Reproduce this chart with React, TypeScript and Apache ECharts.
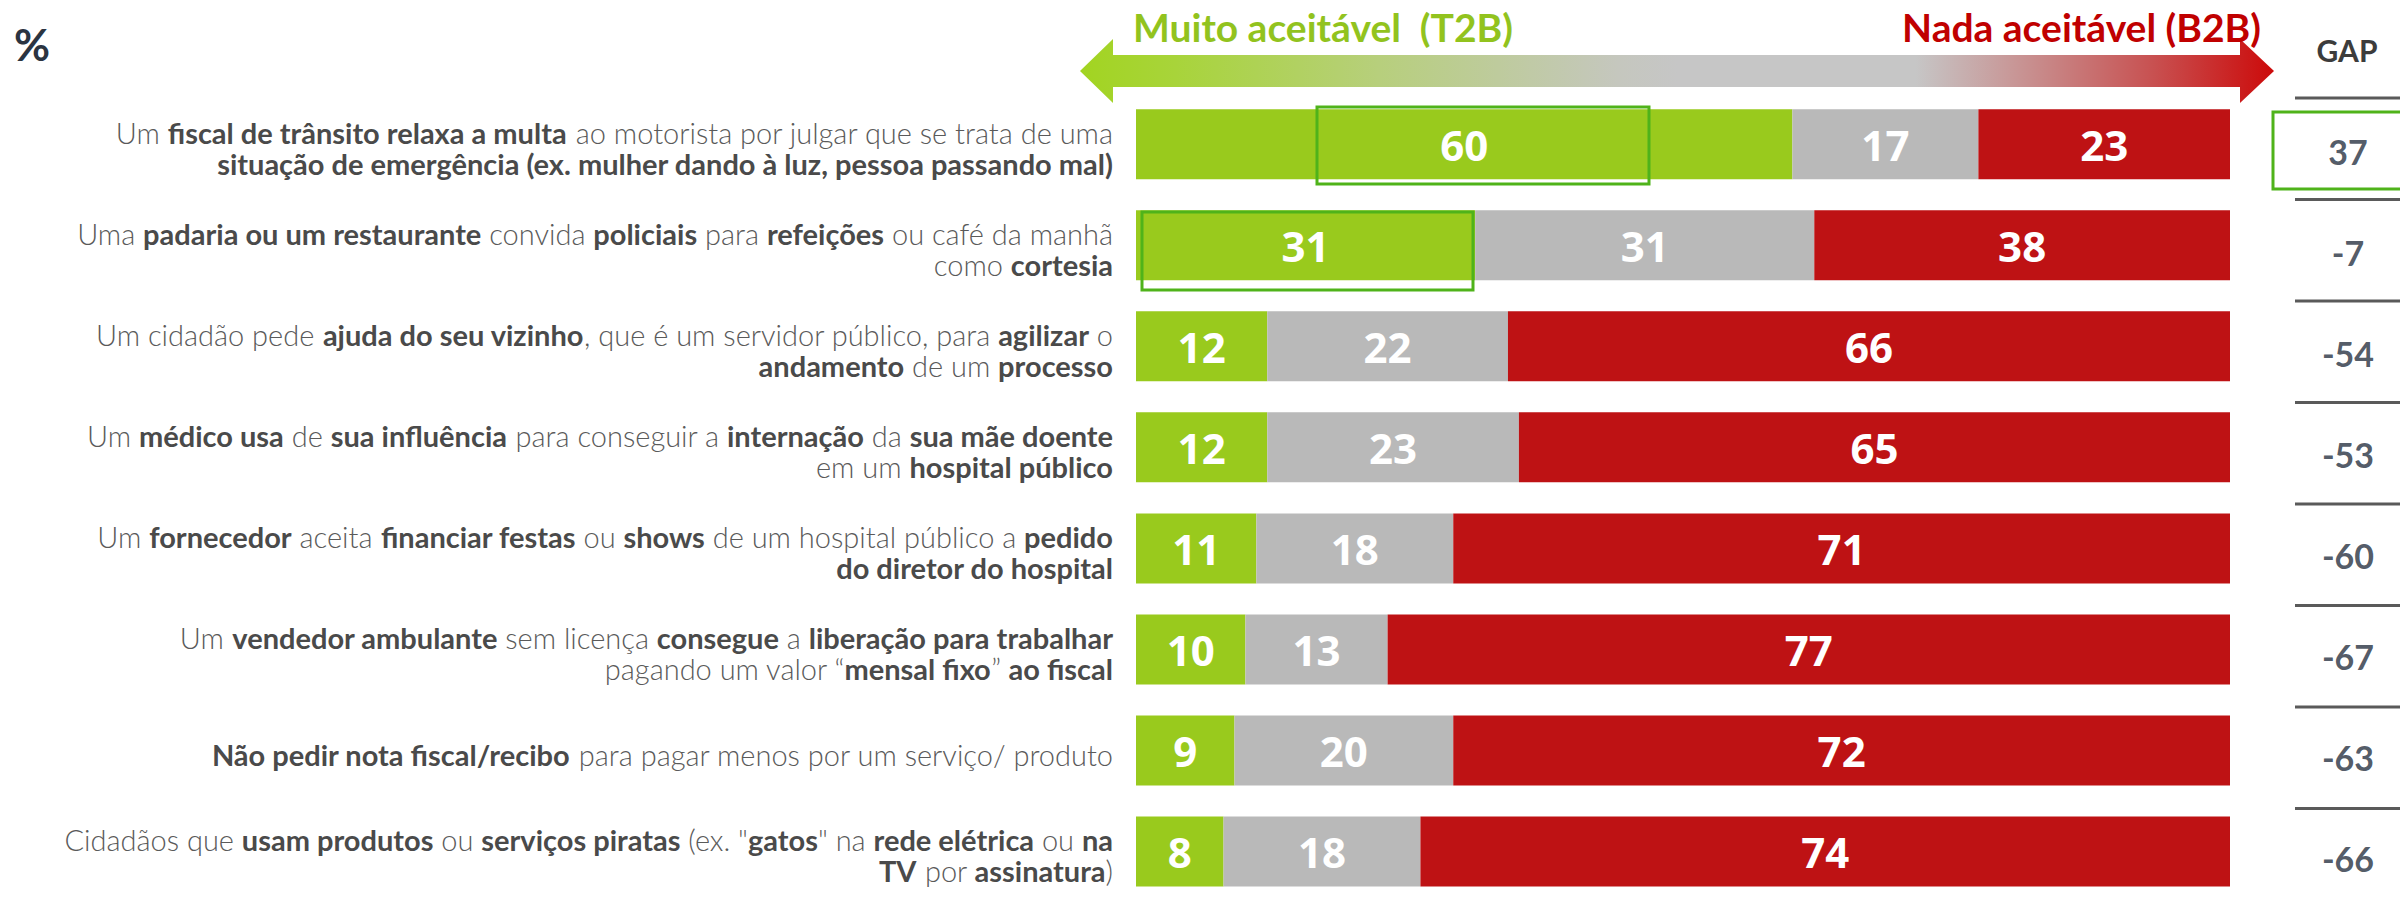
import React, { useEffect, useRef } from "react";
import * as echarts from "echarts";

const categories = [
  "Um {b|fiscal de trânsito relaxa a multa} ao motorista por julgar que se trata de uma\n{b|situação de emergência (ex. mulher dando à luz, pessoa passando mal)}",
  "Uma {b|padaria ou um restaurante} convida {b|policiais} para {b|refeições} ou café da manhã\ncomo {b|cortesia}",
  "Um cidadão pede {b|ajuda do seu vizinho}, que é um servidor público, para {b|agilizar} o\n{b|andamento} de um {b|processo}",
  "Um {b|médico usa} de {b|sua influência} para conseguir a {b|internação} da {b|sua mãe doente}\nem um {b|hospital público}",
  "Um {b|fornecedor} aceita {b|financiar festas} ou {b|shows} de um hospital público a {b|pedido}\n{b|do diretor do hospital}",
  "Um {b|vendedor ambulante} sem licença {b|consegue} a {b|liberação para trabalhar}\npagando um valor “{b|mensal fixo}” {b|ao fiscal}",
  "{b|Não pedir nota fiscal/recibo} para pagar menos por um serviço/ produto",
  "Cidadãos que {b|usam produtos} ou {b|serviços piratas} (ex. \"{b|gatos}\" na {b|rede elétrica} ou {b|na}\n{b|TV} por {b|assinatura})",
];

const t2b = [60, 31, 12, 12, 11, 10, 9, 8];
const neutral = [17, 31, 22, 23, 18, 13, 20, 18];
const b2b = [23, 38, 66, 65, 71, 77, 72, 74];
const gap = [37, -7, -54, -53, -60, -67, -63, -66];

const seriesNames = ["Muito aceitável (T2B)", "Neutro", "Nada aceitável (B2B)"];
const headerLeft = "Muito aceitável  (T2B)";
const headerRight = "Nada aceitável (B2B)";

const GREEN = "#99CA1D";
const GRAY = "#B9B9B9";
const RED = "#BE1214";

export default function App() {
  const ref = useRef<HTMLDivElement>(null);

  useEffect(() => {
    if (!ref.current) return;
    const chart = echarts.init(ref.current, null, { renderer: "svg" });

    const gridTop = 93.75;
    const gridHeight = 828;

    const barLabel = {
      show: true,
      position: "inside",
      color: "#ffffff",
      fontFamily: "Open Sans",
      fontWeight: 700,
      fontSize: 42,
    };

    const sepLines = [];
    for (let k = 0; k < 8; k++) {
      const y = 98 + 101.5 * k;
      sepLines.push({
        type: "line",
        shape: { x1: 2295, y1: y, x2: 2400, y2: y },
        style: { stroke: "#5A5A5A", lineWidth: 3 },
        z: 5,
      });
    }

    const option = {
      animation: false,
      backgroundColor: "#ffffff",
      grid: [
        { left: 1136, width: 1094, top: gridTop, height: gridHeight },
        { left: 2296, width: 104, top: gridTop, height: gridHeight },
      ],
      xAxis: [
        { type: "value", min: 0, max: 100, show: false, gridIndex: 0 },
        { type: "value", min: 0, max: 1, show: false, gridIndex: 1 },
      ],
      yAxis: [
        {
          type: "category",
          data: categories,
          inverse: true,
          gridIndex: 0,
          axisLine: { show: false },
          axisTick: { show: false },
          splitLine: { show: false },
          axisLabel: {
            margin: 23,
            align: "right",
            fontFamily: "Lato",
            fontWeight: 300,
            fontSize: 29,
            lineHeight: 31,
            color: "#5A5A5A",
            padding: [8, 0, 0, 0],
            rich: {
              b: {
                fontFamily: "Lato",
                fontWeight: 700,
                fontSize: 29,
                lineHeight: 31,
                color: "#4A4A4A",
              },
            },
          },
        },
        {
          type: "category",
          data: categories.map((_, i) => String(i)),
          inverse: true,
          gridIndex: 1,
          show: false,
        },
      ],
      series: [
        {
          name: seriesNames[0],
          type: "bar",
          stack: "all",
          data: t2b,
          barWidth: 70,
          itemStyle: { color: GREEN },
          label: barLabel,
        },
        {
          name: seriesNames[1],
          type: "bar",
          stack: "all",
          data: neutral,
          barWidth: 70,
          itemStyle: { color: GRAY },
          label: barLabel,
        },
        {
          name: seriesNames[2],
          type: "bar",
          stack: "all",
          data: b2b,
          barWidth: 70,
          itemStyle: { color: RED },
          label: barLabel,
        },
        {
          name: "GAP",
          type: "scatter",
          xAxisIndex: 1,
          yAxisIndex: 1,
          symbolSize: 1,
          itemStyle: { color: "rgba(0,0,0,0)" },
          data: gap.map((g, i) => ({ value: [0.5, i], gap: g })),
          label: {
            show: true,
            position: "inside",
            offset: [0, 7],
            formatter: (p: any) => String(gap[p.dataIndex]),
            fontFamily: "Lato",
            fontWeight: 700,
            fontSize: 34,
            color: "#263040",
          },
        },
      ],
      graphic: [
        {
          type: "text",
          left: 14,
          top: 22,
          style: {
            text: "%",
            fontFamily: "Lato",
            fontWeight: 700,
            fontSize: 44,
            fill: "#2B3441",
          },
        },
        {
          type: "polygon",
          shape: {
            points: [
              [1080, 71],
              [1113, 39],
              [1113, 55],
              [2240, 55],
              [2240, 39],
              [2274, 71],
              [2240, 103],
              [2240, 87],
              [1113, 87],
              [1113, 103],
            ],
          },
          style: {
            fill: new echarts.graphic.LinearGradient(0, 0, 1, 0, [
              { offset: 0, color: "#A2D421" },
              { offset: 0.08, color: "#A8D43A" },
              { offset: 0.25, color: "#B7CF7C" },
              { offset: 0.45, color: "#C5C7BE" },
              { offset: 0.5, color: "#C6C6C6" },
              { offset: 0.7, color: "#C6C6C6" },
              { offset: 0.78, color: "#C89898" },
              { offset: 0.9, color: "#C85050" },
              { offset: 1, color: "#CC0A0A" },
            ]),
          },
        },
        {
          type: "text",
          x: 1133,
          y: 27,
          style: {
            text: headerLeft,
            fontFamily: "Lato",
            fontWeight: 700,
            fontSize: 39,
            fill: "#92C31E",
            textAlign: "left",
            textVerticalAlign: "middle",
          },
        },
        {
          type: "text",
          x: 2261,
          y: 27,
          style: {
            text: headerRight,
            fontFamily: "Lato",
            fontWeight: 700,
            fontSize: 39,
            fill: "#C00000",
            textAlign: "right",
            textVerticalAlign: "middle",
          },
        },
        {
          type: "text",
          x: 2347,
          y: 50,
          style: {
            text: "GAP",
            fontFamily: "Lato",
            fontWeight: 700,
            fontSize: 30,
            fill: "#3C3C3C",
            textAlign: "center",
            textVerticalAlign: "middle",
          },
        },
        ...sepLines,
        {
          type: "rect",
          shape: { x: 1317, y: 107, width: 332, height: 77 },
          style: { fill: "none", stroke: "#4FB31A", lineWidth: 3 },
          z: 10,
        },
        {
          type: "rect",
          shape: { x: 1142, y: 212, width: 331, height: 78 },
          style: { fill: "none", stroke: "#4FB31A", lineWidth: 3 },
          z: 10,
        },
        {
          type: "rect",
          shape: { x: 2273, y: 112, width: 140, height: 77 },
          style: { fill: "none", stroke: "#4FB31A", lineWidth: 3 },
          z: 10,
        },
      ],
    };

    chart.setOption(option as any);
    return () => chart.dispose();
  }, []);

  return (
    <div
      ref={ref}
      style={{ position: "fixed", left: 0, top: 0, width: 2400, height: 902 }}
    />
  );
}
